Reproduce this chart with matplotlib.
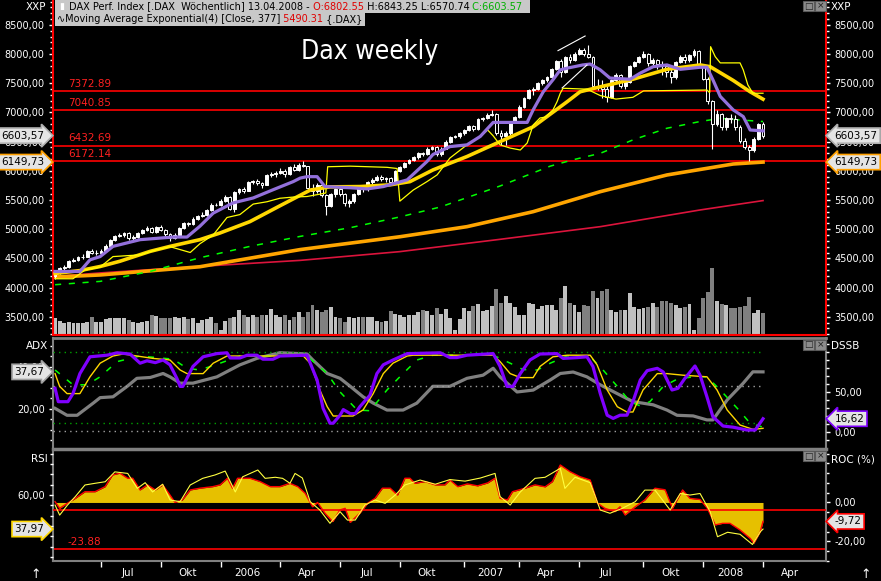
import matplotlib
matplotlib.use('Agg')
import matplotlib.pyplot as plt
import numpy as np
import pandas as pd
from matplotlib.patches import Rectangle
from matplotlib.ticker import FixedLocator, MultipleLocator, FuncFormatter, NullFormatter

W, H = 881, 581

# weekly bars, each dated by the Sunday that opens the week
bar_dates = pd.date_range('2005-04-24', periods=155, freq='7D')

opens = [4200, 4260, 4330, 4350, 4450, 4480, 4520, 4530, 4630, 4590,
         4600, 4630, 4720, 4810, 4880, 4900, 4930, 4850, 4870, 4930,
         4990, 5020, 4960, 5040, 4990, 4920, 4850, 4900, 5020, 5100,
         5090, 5180, 5230, 5250, 5330, 5420, 5410, 5490, 5550, 5350,
         5630, 5680, 5660, 5800, 5820, 5790, 5760, 5930, 5940, 5970,
         6000, 5950, 6060, 6010, 6100, 6080, 5700, 5650, 5750, 5580,
         5400, 5600, 5680, 5600, 5450, 5480, 5600, 5700, 5680, 5800,
         5840, 5900, 5860, 5880, 5810, 6000, 6070, 6130, 6180, 6230,
         6300, 6290, 6380, 6400, 6280, 6380, 6500, 6580, 6600, 6640,
         6700, 6760, 6720, 6880, 6900, 6960, 6970, 6650, 6600, 6640,
         6840, 6920, 7100, 7250, 7380, 7410, 7500, 7550, 7600, 7740,
         7880, 7690, 7950, 7900, 8000, 8070, 8000, 7950, 7450, 7450,
         7400, 7270, 7550, 7640, 7450, 7530, 7800, 7860, 7950, 8000,
         7850, 7900, 7830, 7800, 7700, 7600, 7870, 7950, 7900, 7980,
         8050, 7800, 7580, 7200, 6800, 6970, 6750, 6900, 6880, 6750,
         6510, 6400, 6350, 6550, 6802.55]
highs = [4290, 4350, 4390, 4470, 4510, 4540, 4570, 4650, 4660, 4640,
         4660, 4740, 4830, 4900, 4940, 4960, 4950, 4900, 4950, 5010,
         5050, 5040, 5060, 5070, 5000, 4940, 4930, 5040, 5120, 5130,
         5200, 5250, 5290, 5350, 5440, 5450, 5510, 5580, 5560, 5650,
         5700, 5720, 5820, 5850, 5860, 5810, 5950, 5980, 6000, 6050,
         6030, 6080, 6110, 6130, 6160, 6090, 5780, 5790, 5780, 5600,
         5620, 5710, 5720, 5620, 5520, 5620, 5720, 5740, 5820, 5870,
         5920, 5930, 5900, 5890, 6010, 6090, 6150, 6200, 6250, 6320,
         6330, 6400, 6430, 6420, 6400, 6520, 6600, 6620, 6660, 6720,
         6780, 6790, 6900, 6930, 6990, 7040, 6990, 6700, 6680, 6860,
         6940, 7120, 7270, 7400, 7440, 7520, 7580, 7630, 7760, 7900,
         7920, 7970, 8000, 8030, 8100, 8110, 8150, 7970, 7580, 7560,
         7450, 7580, 7670, 7660, 7560, 7820, 7880, 7970, 8050, 8020,
         7940, 7920, 7880, 7820, 7750, 7890, 7980, 8010, 8000, 8080,
         8070, 7820, 7600, 7220, 7050, 6990, 6930, 6980, 6950, 6780,
         6570, 6450, 6580, 6820, 6843.25]
lows = [4150, 4240, 4300, 4340, 4430, 4460, 4490, 4520, 4570, 4560,
        4580, 4610, 4700, 4790, 4860, 4870, 4820, 4810, 4850, 4910,
        4970, 4930, 4940, 4970, 4880, 4800, 4830, 4880, 5000, 5050,
        5070, 5150, 5200, 5230, 5310, 5390, 5400, 5470, 5330, 5300,
        5600, 5620, 5650, 5770, 5750, 5700, 5750, 5900, 5900, 5950,
        5900, 5930, 5990, 6000, 6060, 5650, 5560, 5620, 5550, 5240,
        5380, 5550, 5560, 5400, 5380, 5450, 5580, 5640, 5660, 5780,
        5820, 5830, 5800, 5770, 5790, 5980, 6050, 6110, 6160, 6210,
        6250, 6270, 6360, 6250, 6260, 6370, 6480, 6560, 6570, 6610,
        6680, 6690, 6700, 6850, 6880, 6940, 6620, 6440, 6440, 6620,
        6820, 6900, 7080, 7230, 7300, 7390, 7470, 7520, 7580, 7720,
        7600, 7670, 7850, 7880, 7980, 7960, 7930, 7420, 7380, 7250,
        7180, 7250, 7520, 7420, 7400, 7510, 7780, 7840, 7930, 7800,
        7780, 7750, 7650, 7600, 7500, 7580, 7850, 7850, 7860, 7950,
        7780, 7550, 7150, 6380, 6760, 6700, 6700, 6820, 6700, 6480,
        6380, 6170, 6330, 6530, 6570.74]
closes = [4260, 4330, 4350, 4450, 4480, 4520, 4530, 4630, 4590, 4600,
          4630, 4720, 4810, 4880, 4900, 4930, 4850, 4870, 4930, 4990,
          5020, 4960, 5040, 4990, 4920, 4850, 4900, 5020, 5100, 5090,
          5180, 5230, 5250, 5330, 5420, 5410, 5490, 5550, 5350, 5630,
          5680, 5660, 5800, 5820, 5790, 5760, 5930, 5940, 5970, 6000,
          5950, 6060, 6010, 6100, 6080, 5700, 5650, 5750, 5580, 5400,
          5600, 5680, 5600, 5450, 5480, 5600, 5700, 5680, 5800, 5840,
          5900, 5860, 5880, 5810, 6000, 6070, 6130, 6180, 6230, 6300,
          6290, 6380, 6400, 6280, 6380, 6500, 6580, 6600, 6640, 6700,
          6760, 6720, 6880, 6900, 6960, 6970, 6650, 6600, 6640, 6840,
          6920, 7100, 7250, 7380, 7410, 7500, 7550, 7600, 7740, 7880,
          7690, 7950, 7900, 8000, 8070, 8000, 7950, 7450, 7450, 7400,
          7270, 7550, 7640, 7450, 7530, 7800, 7860, 7950, 8000, 7850,
          7900, 7830, 7800, 7700, 7600, 7870, 7950, 7900, 7980, 8050,
          7800, 7580, 7200, 6800, 6970, 6750, 6900, 6880, 6750, 6510,
          6400, 6350, 6550, 6800, 6603.57]
volume = [16.7, 14, 11.7, 12.7, 11.7, 11.7, 12.3, 12.7, 17.7, 12.7,
          12.7, 15.7, 16.7, 16.7, 16.7, 16.7, 15, 13.3, 12.3, 13.3,
          14, 20, 19, 16.7, 16.7, 17.3, 18.3, 16.7, 18.3, 15.7,
          17.3, 12.3, 15, 15.7, 18.3, 11.7, 5, 14.3, 16.7, 18.3,
          25, 20, 18.3, 20, 18.3, 20, 20, 26, 20, 18.3,
          20, 15, 18.3, 23.3, 18.3, 23.3, 30, 25, 23.3, 25,
          27.7, 18.3, 16.7, 12.7, 18.3, 16.7, 18.3, 18.3, 18.3, 18.3,
          14.3, 13.3, 14.3, 24, 21,
          20, 18.3, 20, 20, 22.7, 25, 24, 20, 26.7, 21,
          26, 16.7, 5, 15.7, 26.7, 24, 29, 31, 24, 25,
          29, 45.7, 31.7, 39, 31.7, 28.3, 20, 20, 31.7, 31,
          25.7, 29, 29.7, 29.7, 25, 36.7, 49, 31.7, 30, 23,
          30, 29, 44.3, 36.7, 44, 45.7, 25, 23, 25, 25,
          41.7, 27.7, 26, 27, 27.7, 31.7, 28, 34, 34, 31.7,
          30, 27.3, 28, 31, 5, 16.7, 36.7, 42.7, 66.7, 34,
          31, 29.7, 27, 27, 28, 28.7, 37.7, 22.3, 24.7, 22]
vol_top = 335

# overlay lines: (bar number, value)
fast_x = [0, 5.4, 7.6, 9.8, 12.6, 18.5, 25.7, 28.7, 31.5, 34.4, 38.7, 43.1, 47.4, 51.8, 53.3,
          54.8, 57, 58.7, 64.2, 67.9, 71.4, 76.6, 80.9, 82.2, 85.9, 89.6, 92.5, 95.3, 102.7, 104,
          106.2, 108.3, 109.9, 111.4, 114.8, 116.4, 118.6, 120.7, 125.1, 127.3, 130.1, 133.1, 136,
          140.3, 141.8, 143.1, 144.7, 147.5, 149.7, 151.2, 154]
fast_y = [4275, 4275, 4475, 4530, 4705, 4820, 4865, 4865, 5050, 5275, 5450, 5535, 5675, 5815, 5875,
          5900, 5900, 5730, 5710, 5690, 5730, 5845, 6160, 6280, 6415, 6445, 6590, 6830, 6830, 7045,
          7355, 7560, 7730, 7760, 7815, 7830, 7730, 7590, 7570, 7675, 7785, 7815, 7740,
          7775, 7775, 7560, 7275, 7045, 6930, 6700, 6685]
mid_x = [0, 5.4, 9.8, 14.1, 20.7, 25, 31.5, 35.9, 42.4, 48.9, 53.3, 55.5, 59.8, 66.3, 72.9,
         77.2, 82.2, 89.6, 96.8, 104, 111.4, 114.2, 118.6, 125.7, 133.1, 140.3, 142.5, 147.5, 151.2, 154]
mid_y = [4240, 4290, 4360, 4450, 4620, 4705, 4820, 4935, 5130, 5400, 5580, 5670, 5725, 5730, 5760,
         5815, 6015, 6245, 6500, 6755, 7185, 7355, 7440, 7570, 7740, 7815, 7785, 7550, 7355, 7228]
band_x = [0, 3.9, 6.5, 9.8, 12.6, 18.5, 21.8, 25, 27.2, 29.4, 31.5, 34.4, 37.4, 40.2, 43.1,
          46.1, 48.9, 51.8, 54.8, 57.6, 58.9, 59.3, 64.2, 72.2, 74.4, 75, 77.9, 80.9, 83.1, 85.9,
          89.6, 92.5, 94.1, 95.3, 96.8, 99, 101.2, 102.7, 104, 105.5, 106.6, 108.3, 109.2, 109.9, 110.5,
          115.7, 118.6, 122, 125.7, 128, 141.8, 142.4, 142.6, 143.6, 144.7, 149, 149.7, 150.7, 151.8, 154]
band_y = [4150, 4150, 4300, 4350, 4530, 4560, 4640, 4700, 4650, 4600, 4750, 4900, 5200, 5250, 5430,
          5470, 5530, 5550, 5560, 5600, 5620, 6070, 6080, 6060, 6040, 5480, 5670, 5815, 5930, 6220,
          6445, 6585, 6700, 6600, 6445, 6390, 6357, 6477, 6786, 6906, 6920, 7043, 7185, 7330, 7415,
          7400, 7290, 7230, 7260, 7370, 7385, 7340, 8128, 7957, 7850, 7850, 7730, 7472, 7330, 7330]
ma_green_x = [0, 9.8, 20.7, 31.5, 42.4, 53.3, 64.2, 75, 83.8, 96.8, 107.7, 112.7, 118.6, 125.7, 133.1,
              140.3, 144.7, 147.5, 154]
ma_green_y = [4048, 4105, 4276, 4510, 4705, 4876, 5025, 5210, 5380, 5740, 6080, 6190, 6300, 6530, 6730,
              6845, 6900, 6880, 6845]
ma_orange_x = [0, 9.8, 31.5, 53.3, 75, 89.6, 104, 118.6, 133.1, 147.5, 154]
ma_orange_y = [4180, 4215, 4356, 4650, 4870, 5043, 5300, 5643, 5929, 6117, 6150]
ma_red_x = [0, 9.8, 31.5, 53.3, 75, 96.8, 118.6, 140.3, 154]
ma_red_y = [4190, 4250, 4362, 4465, 4615, 4826, 5043, 5329, 5490]
trend_x = [[109.4, 115.3], [110.3, 115.7]]
trend_y = [[8060, 8311], [7420, 7814]]
levels = [7372.89, 7040.85, 6432.69, 6172.14]

dssb_x = [0, 0.7, 2.8, 3.9, 5.4, 7.6, 11.3, 13.5, 16.3, 18.5, 20, 21.8, 23.5, 25, 26.5, 27.2, 27.8,
          30, 32.2, 35.2, 37.4, 38.1, 40.2, 41.8, 43.9, 45.2, 47.4, 48.9, 54.8, 57, 58.3, 59.8, 60.5,
          62, 62.7, 64.2, 65.3, 66.3, 68.5, 70, 71.4, 73.5, 76.6, 83.8, 85.9, 87.4, 89.6, 95.3, 96.8,
          98.3, 99.6, 101.2, 103.3, 105.5, 109.2, 110.5, 113.6, 115.7, 117, 118.6, 120.1, 121.4, 122.9,
          124.4, 125.7, 127.3, 128.8, 131, 132.3, 134.2, 135.5, 137, 139.2, 140.3, 141.8, 143.1, 145.3,
          147.5, 150.5, 152.3, 153.4, 154]
dssb_y = [54.6, 37.9, 37.9, 48, 73, 94, 96, 99, 97.5, 86, 89, 86.7, 90, 84, 67, 57, 57,
          82, 94, 98, 99, 92.5, 92.5, 96, 96, 91, 91, 95, 96, 65, 29.6, 11, 11,
          21, 28, 23, 23, 31.6, 46, 73, 84, 90, 98, 99, 93, 93, 96, 98, 82,
          57, 57, 73, 90, 97.5, 98, 92, 93, 94, 82, 48, 21, 17, 21,
          21, 38, 65, 76.7, 79.6, 75, 52.5, 54.6, 67, 82.5, 71, 44, 19, 7.5,
          6, 2.5, 2.5, 11.6, 16.6]
sig_x = [0, 1, 2.6, 5.4, 7.6, 9.8, 12.6, 14.8, 17.8, 21.3, 25, 27.2, 28.7, 32.2, 34.4, 37.4, 54,
         55.5, 57.6, 59.2, 60.5, 64.8, 67, 69.2, 71.4, 73.5, 76.6, 77.9, 95.3, 96.8, 99, 101.2, 104,
         105.5, 108.3, 111.4, 116.4, 117.9, 120.1, 122.3, 124.4, 125.7, 127.9, 131, 133.1, 136.6,
         141.8, 144, 146.2, 149, 151.8, 154]
sig_y = [73, 57, 48, 48, 69, 86, 95, 97.5, 95, 92, 90, 77.5, 73, 73, 86, 95, 95,
         86, 52.5, 31.6, 20, 20, 27.5, 48, 73, 86, 95, 96, 96, 88, 73, 68, 68,
         82, 94, 96, 96, 84, 52.5, 31.6, 25, 25, 52.5, 73, 73, 71,
         69, 52.5, 27.5, 8.75, 3.3, 4.6]
slow_x = [0, 3.9, 7, 9.8, 13.5, 18.5, 25.7, 28.7, 31.5, 35.9, 40.2, 54.8, 59.2, 62, 65.7, 68.5,
          72.2, 75, 78.7, 82.2, 95.3, 99, 101.8, 104.9, 107.7, 111.4, 116.4, 119.2, 122.3, 125.1,
          127.3, 129.4, 132.3, 135.3, 138.8, 141.8, 144.7, 148.4, 151.2, 154]
slow_y = [77.5, 59, 59, 69, 88, 95, 91, 79.6, 77.5, 86, 95, 95, 73, 50, 27.5, 26.6,
          52.5, 69, 90, 96, 96, 86, 78, 77.5, 86, 95, 94, 77.5, 57, 38,
          32.5, 38, 57, 66, 69, 69, 52.5, 29.6, 11, 6]
dssb_levels = [100, 57.5, 11.25, 1.25]
adx_x = [0, 2.6, 4.8, 8.3, 9.8, 12.6, 15.7, 17.8, 20.7, 23.5, 25, 27.2, 30, 35.2, 40.2, 43.9, 48.9,
         54.8, 56.1, 59.2, 62, 64.2, 67, 69.2, 72.2, 75.7, 78.7, 82.2, 85.9, 89.6, 93.1, 95.3, 96.8,
         100.5, 104, 107.7, 109.9, 112.7, 115.7, 118.6, 122.3, 125.7, 130.1, 133.1, 135.3, 138.8,
         141.8, 143.1, 146.2, 149.7, 151.8, 154]
adx_y = [20.3, 17, 17, 22.8, 25.4, 25.8, 30.8, 34.6, 35, 36.9, 35.3, 32.3, 32.3, 35.3, 41, 44.1, 46.8,
         46.2, 43.3, 36.9, 34.6, 30.8, 25.8, 22.8, 19.5, 19.5, 22.8, 30.8, 30.8, 34.6, 36.1, 39.4, 35.3,
         28.1, 29, 33.8, 36.9, 37.6, 35.3, 31.5, 27.3, 23.5, 22, 19.5, 17, 16.7,
         14.8, 14.8, 24.3, 32.3, 37.7, 37.67]

roc_x = [0, 1, 2.7, 4.4, 6.5, 8.7, 10.9, 12.5, 14.1, 15.8, 16.9, 18.5, 20.1, 21.8, 23.4, 24.5, 26.1,
         27.7, 29.4, 31.5, 34.3, 35.9, 37.5, 38.6, 39.7, 42.4, 44.6, 46.8, 48.9, 51.1, 52.8, 54.4, 56,
         57.1, 58.7, 60.4, 62, 63.1, 64.2, 66.3, 68, 69.6, 71.2, 72.9, 74.5, 76.1, 77.2, 78.3, 80.5,
         82.7, 84.8, 85.9, 87.6, 89.7, 91.9, 94.1, 95.7, 96.8, 98.4, 99.5, 102.2, 104.4, 106.6, 108.2,
         109.9, 112, 114.2, 116.4, 118, 119.6, 121.8, 122.9, 124, 126.2, 128.3, 130.5, 132.7, 134.3,
         136.5, 138.1, 140.3, 141.9, 143.6, 145.2, 146.8, 149, 151.2, 152, 153.4, 154]
roc_y = [0.4, -3, -0.4, 2.1, 5.5, 5.5, 8.1, 14.1, 15, 12.4, 12.4, 6.4, 9, 6.4, 9, 5.5, 0,
         1.3, 6.4, 7.3, 8.1, 9, 12.4, 7.3, 12.4, 12.4, 10.7, 8.1, 8.1, 9.8, 8.1, 4.7, -2.2,
         0, -5.5, -9.8, -3.8, -3, -10.2, -5.5, -0.4, 2.1, 7.3, 7.3, 3.8, 12.4, 12.4, 9.8, 10.7,
         9, 9, 11.5, 8.1, 9.5, 8.5, 10, 12.4, 2.1, 1.3, 5.5, 7.3, 9, 8, 10.7,
         19.2, 15.8, 13.2, 11.5, -0.4, -3, -4.7, -2.2, -6.4, -2.2, 1.3, 7.3, 6.5, -3,
         6.4, 2.1, 1.5, -3, -11.5, -10.7, -10.7, -14.1, -18.4, -20.9, -15, -9.72]
rsi_x = [0, 1, 2.7, 4.4, 6.5, 8.7, 10.9, 13, 15.8, 17.9, 19.6, 21.2, 23.4, 25, 27.2, 29.4, 32.1,
         34.8, 37, 39.2, 40.8, 44.1, 45.7, 47.9, 49.5, 51.1, 52.2, 53.8, 55.5, 57.6, 59.8, 62, 63.6,
         65.3, 67.4, 69.6, 71.8, 74, 76.1, 79.4, 82.7, 85.9, 89.2, 92.5, 95.7, 96.8, 99, 101.2, 104.4,
         106.6, 109.9, 110.9, 113.1, 116.4, 118.6, 120.7, 123.4, 126.2, 128.3, 130.5, 133.8, 136,
         138.1, 140.3, 142.5, 144.1, 146.3, 149, 151.7, 153.4, 154]
rsi_y = [53.5, 47, 53.5, 59, 66.5, 67.6, 68.6, 75, 74, 64.3, 68, 62, 67, 56.8, 55.7, 66.5, 70.8,
         73, 75.5, 62, 71.8, 76.2, 70.8, 71.5, 70.8, 67.6, 74, 71, 55.7, 50.3, 41.7, 49.2, 43.8,
         43.8, 53.5, 56.8, 54.6, 60, 66.5, 69.7, 67, 70, 69, 71, 74, 59, 53.5, 62, 70.8,
         71.5, 77.3, 64.3, 71.5, 68, 50.3, 48.2, 51.4, 55.7, 63.2, 63.2, 50.3, 61,
         60, 61, 49.2, 33, 35.9, 34.6, 28, 36.2, 37.97]
roc_low = -23.88
month_names = {1: None, 4: 'Apr', 7: 'Jul', 10: 'Okt'}

FONT = 'DejaVu Sans'
plt.rcParams['font.family'] = FONT
XL = (-0.45, 167.7)
GRAY = '#808080'


def box(x0, y0, x1, y1):
    return [x0 / W, 1 - y1 / H, (x1 - x0) / W, (y1 - y0) / H]


def de(v, pos=None):
    s = '%.2f' % v
    if s == '-0.00':
        s = '0.00'
    return s.replace('.', ',')


def yaxis_style(a, side, major, minor):
    a.yaxis.set_major_locator(major)
    a.yaxis.set_minor_locator(minor)
    a.yaxis.set_major_formatter(FuncFormatter(de))
    if side == 'left':
        a.tick_params(axis='y', which='both', left=True, right=False, labelleft=True, labelright=False)
    else:
        a.tick_params(axis='y', which='both', left=False, right=True, labelleft=False, labelright=True)
    a.tick_params(axis='y', which='both', colors='white', labelsize=7, direction='out', pad=3)
    a.tick_params(axis='y', which='major', length=3, width=1)
    a.tick_params(axis='y', which='minor', length=2, width=1)
    a.tick_params(axis='x', which='both', bottom=False, labelbottom=False)


def tag(a, y, text, edge, side):
    if side == 'left':
        a.text(-0.011, y, text, transform=a.get_yaxis_transform(), ha='right', va='center',
               fontsize=7.5, color='black', clip_on=False, zorder=10,
               bbox=dict(boxstyle='rarrow,pad=0.25', fc='#e4e4e4', ec=edge, lw=1.2))
    else:
        a.text(1.011, y, text, transform=a.get_yaxis_transform(), ha='left', va='center',
               fontsize=7.5, color='black', clip_on=False, zorder=10,
               bbox=dict(boxstyle='larrow,pad=0.25', fc='#e4e4e4', ec=edge, lw=1.2))


fig = plt.figure(figsize=(W / 100, H / 100), dpi=100, facecolor='black')
idx = np.arange(len(closes))
o = np.array(opens)
c = np.array(closes)
up = c >= o

# ---------------- price panel ----------------
ax_vol = fig.add_axes(box(53, 0, 826, 335))
ax_vol.set_xlim(XL)
ax_vol.set_ylim(0, vol_top)
ax_vol.bar(idx, volume, width=0.85, color=np.where(up, '#c0c0c0', '#808080'), linewidth=0)
ax_vol.axis('off')

ax = fig.add_axes(box(53, 0, 826, 335))
ax.patch.set_visible(False)
ax.set_xlim(XL)
ax.set_ylim(3186, 8928)
yaxis_style(ax, 'left', MultipleLocator(500), MultipleLocator(100))
ax.tick_params(axis='y', which='both', right=True, labelright=True)
ax.spines['top'].set_visible(False)
for s in ('left', 'right', 'bottom'):
    ax.spines[s].set_color('#ff0000')
    ax.spines[s].set_linewidth(1.5)

for v in levels:
    ax.axhline(v, color='#ff0000', lw=1.2, zorder=1)
    ax.annotate('%.2f' % v, xy=(2.8, v), xytext=(0, 1.5), textcoords='offset points',
                color='#ff2020', fontsize=7.5, va='bottom', ha='left')

ax.plot(ma_red_x, ma_red_y, color='#dc143c', lw=1.2, zorder=2)
ax.plot(ma_orange_x, ma_orange_y, color='#ffa500', lw=2.6, zorder=2)
ax.plot(ma_green_x, ma_green_y, color='#00ff00', lw=1.1, dashes=(4, 5), zorder=2)

ax.vlines(idx, lows, highs, color='white', lw=0.8, zorder=3)
ax.bar(idx, np.abs(c - o), bottom=np.minimum(o, c), width=0.62,
       color=np.where(up, 'white', 'black'), edgecolor='white', linewidth=0.7, zorder=4)

ax.plot(mid_x, mid_y, color='#ffd700', lw=2.6, zorder=5)
ax.plot(band_x, band_y, color='#ffff00', lw=0.9, zorder=5)
ax.plot(fast_x, fast_y, color='#9370db', lw=2.3, zorder=6)
for tx, ty in zip(trend_x, trend_y):
    ax.plot(tx, ty, color='white', lw=0.8, zorder=6)

tag(ax, closes[-1], de(closes[-1]), '#b0b0b0', 'left')
tag(ax, ma_orange_y[-1] - 0.27, '6149,73', '#ffa000', 'left')
tag(ax, closes[-1], de(closes[-1]), '#b0b0b0', 'right')
tag(ax, ma_orange_y[-1] - 0.27, '6149,73', '#ffa000', 'right')

# ---------------- ADX / DSSB panel ----------------
ax_a = fig.add_axes(box(53, 338, 826, 447))
ax_a.set_facecolor('black')
ax_a.set_xlim(XL)
ax_a.set_ylim(1.9, 53.8)
yaxis_style(ax_a, 'left', FixedLocator([20, 40]), MultipleLocator(5))
for s in ('left', 'right', 'top'):
    ax_a.spines[s].set_color(GRAY)
    ax_a.spines[s].set_linewidth(2 if s == 'top' else 1.5)
ax_a.spines['bottom'].set_visible(False)

ax_d = fig.add_axes(box(53, 338, 826, 447))
ax_d.patch.set_visible(False)
ax_d.set_xlim(XL)
ax_d.set_ylim(-18.75, 117.5)
yaxis_style(ax_d, 'right', FixedLocator([0, 50]), MultipleLocator(10))
for s in ax_d.spines.values():
    s.set_visible(False)

for v, col in zip(dssb_levels, ['#00a000', '#a0a0a0', '#00a000', '#a0a0a0']):
    ax_d.hlines(v, XL[0], 154, colors=col, linestyles=(0, (1, 3)), lw=1, zorder=1)
ax_a.plot(adx_x, adx_y, color=GRAY, lw=2.3, zorder=2)
ax_d.plot(slow_x, slow_y, color='#00ff00', lw=1.1, dashes=(4, 6), zorder=3)
ax_d.plot(sig_x, sig_y, color='#ffd700', lw=1.0, zorder=4)
ax_d.plot(dssb_x, dssb_y, color='#8000ff', lw=2.3, zorder=5)
tag(ax_a, adx_y[-1], de(adx_y[-1]), '#a0a0a0', 'left')
tag(ax_d, dssb_y[-1], de(dssb_y[-1] + 0.02), '#8000ff', 'right')

# ---------------- RSI / ROC panel ----------------
ax_r = fig.add_axes(box(53, 449, 826, 561))
ax_r.set_facecolor('black')
ax_r.set_xlim(XL)
ax_r.set_ylim(-30, 27.4)
yaxis_style(ax_r, 'right', FixedLocator([-20, 0]), MultipleLocator(5))
for s in ax_r.spines.values():
    s.set_color(GRAY)
    s.set_linewidth(1.5)
ax_r.spines['top'].set_linewidth(2.5)

ax_r.fill_between(roc_x, roc_y, 0, color='#e6c000', lw=0, zorder=1)
ax_r.plot(roc_x, roc_y, color='#ff0000', lw=1.0, zorder=2)
ax_r.axhline(roc_low, color='#ff0000', lw=1.2, zorder=2)
ax_r.annotate('%.2f' % roc_low, xy=(2.8, roc_low), xytext=(0, 1.5), textcoords='offset points',
              color='#ff2020', fontsize=7.5, va='bottom', ha='left')

ax_s = fig.add_axes(box(53, 449, 826, 561))
ax_s.patch.set_visible(False)
ax_s.set_xlim(XL)
ax_s.set_ylim(17.3, 89.8)
yaxis_style(ax_s, 'left', FixedLocator([40, 60]), FixedLocator([20 + k * 20 / 3 for k in range(11)]))
for s in ax_s.spines.values():
    s.set_visible(False)
ax_s.axhline(50, color='#ff0000', lw=1.2, zorder=1)
ax_s.plot(rsi_x, rsi_y, color='#ffff40', lw=0.8, zorder=2)
tag(ax_s, rsi_y[-1], de(rsi_y[-1]), '#ffd700', 'left')
tag(ax_r, roc_y[-1], de(roc_y[-1]), '#ff0000', 'right')

# time axis: quarter starts, label sits a little to the right of its tick
tick_pos, lab_pos, lab_txt = [], [], []
for i in range(1, len(bar_dates)):
    d, p = bar_dates[i], bar_dates[i - 1]
    if d.month != p.month and d.month in month_names:
        tick_pos.append(i)
        lab_pos.append(i + 5.8)
        lab_txt.append(month_names[d.month] or str(d.year))
ax_r.set_xticks(tick_pos)
ax_r.set_xticks(lab_pos, minor=True)
ax_r.xaxis.set_major_formatter(NullFormatter())
ax_r.set_xticklabels(lab_txt, minor=True)
ax_r.tick_params(axis='x', which='major', bottom=True, length=4, width=1, color='white', direction='out')
ax_r.tick_params(axis='x', which='minor', bottom=True, labelbottom=True, length=0, pad=5,
                 labelsize=7.5, labelcolor='white')

# ---------------- overlay: header, titles, buttons ----------------
top = fig.add_axes([0, 0, 1, 1], zorder=20)
top.set_xlim(0, W)
top.set_ylim(H, 0)
top.axis('off')

top.add_patch(Rectangle((55, 0), 475, 12.5, fc='#c8c8c8', ec='none'))
top.add_patch(Rectangle((55, 13), 310, 13, fc='#c8c8c8', ec='none'))
top.text(59, 6.5, '▮', fontsize=6.5, color='white', va='center', ha='left')
t = top.text(69, 6.5, 'DAX Perf. Index [.DAX  Wöchentlich] 13.04.2008 -', fontsize=7,
             color='black', va='center', ha='left')
for s, col in [(' O:6802.55', '#e00000'), (' H:6843.25 L:6570.74', 'black'), (' C:6603.57', '#00b000')]:
    t = top.annotate(s, xy=(1, 0.5), xycoords=t, va='center', ha='left', fontsize=7, color=col)
t = top.text(57, 19.5, '∿Moving Average Exponential(4) [Close, 377]', fontsize=7,
             color='black', va='center', ha='left')
for s, col in [(' 5490.31', '#e00000'), (' {.DAX}', 'black')]:
    t = top.annotate(s, xy=(1, 0.5), xycoords=t, va='center', ha='left', fontsize=7, color=col)

top.text(46, 6.5, 'XXP', color='white', fontsize=7.5, ha='right', va='center')
top.text(831, 6.5, 'XXP', color='white', fontsize=7.5, ha='left', va='center')
top.text(48, 346, 'ADX', color='white', fontsize=7.5, ha='right', va='center')
top.text(831, 346, 'DSSB', color='white', fontsize=7.5, ha='left', va='center')
top.text(48, 459, 'RSI', color='white', fontsize=7.5, ha='right', va='center')
top.text(831, 459, 'ROC (%)', color='white', fontsize=7.5, ha='left', va='center')

for y0 in (1, 340, 451):
    for x0, sym in ((803, '□'), (815, '×')):
        top.add_patch(Rectangle((x0, y0), 11, 10, fc='#8c8c8c', ec='#5a5a5a', lw=0.8))
        top.text(x0 + 5.5, y0 + 5, sym, color='#202020', fontsize=6.5, ha='center', va='center')

top.text(370, 52, 'Dax weekly', color='white', fontsize=19, ha='center', va='center',
         family='DejaVu Sans', fontstretch='condensed', fontweight='light')
top.text(36, 575, '↑', color='white', fontsize=9, ha='center', va='center')
top.text(866, 575, '↑', color='white', fontsize=9, ha='center', va='center')

fig.savefig('out.png', dpi=100, facecolor='black')
